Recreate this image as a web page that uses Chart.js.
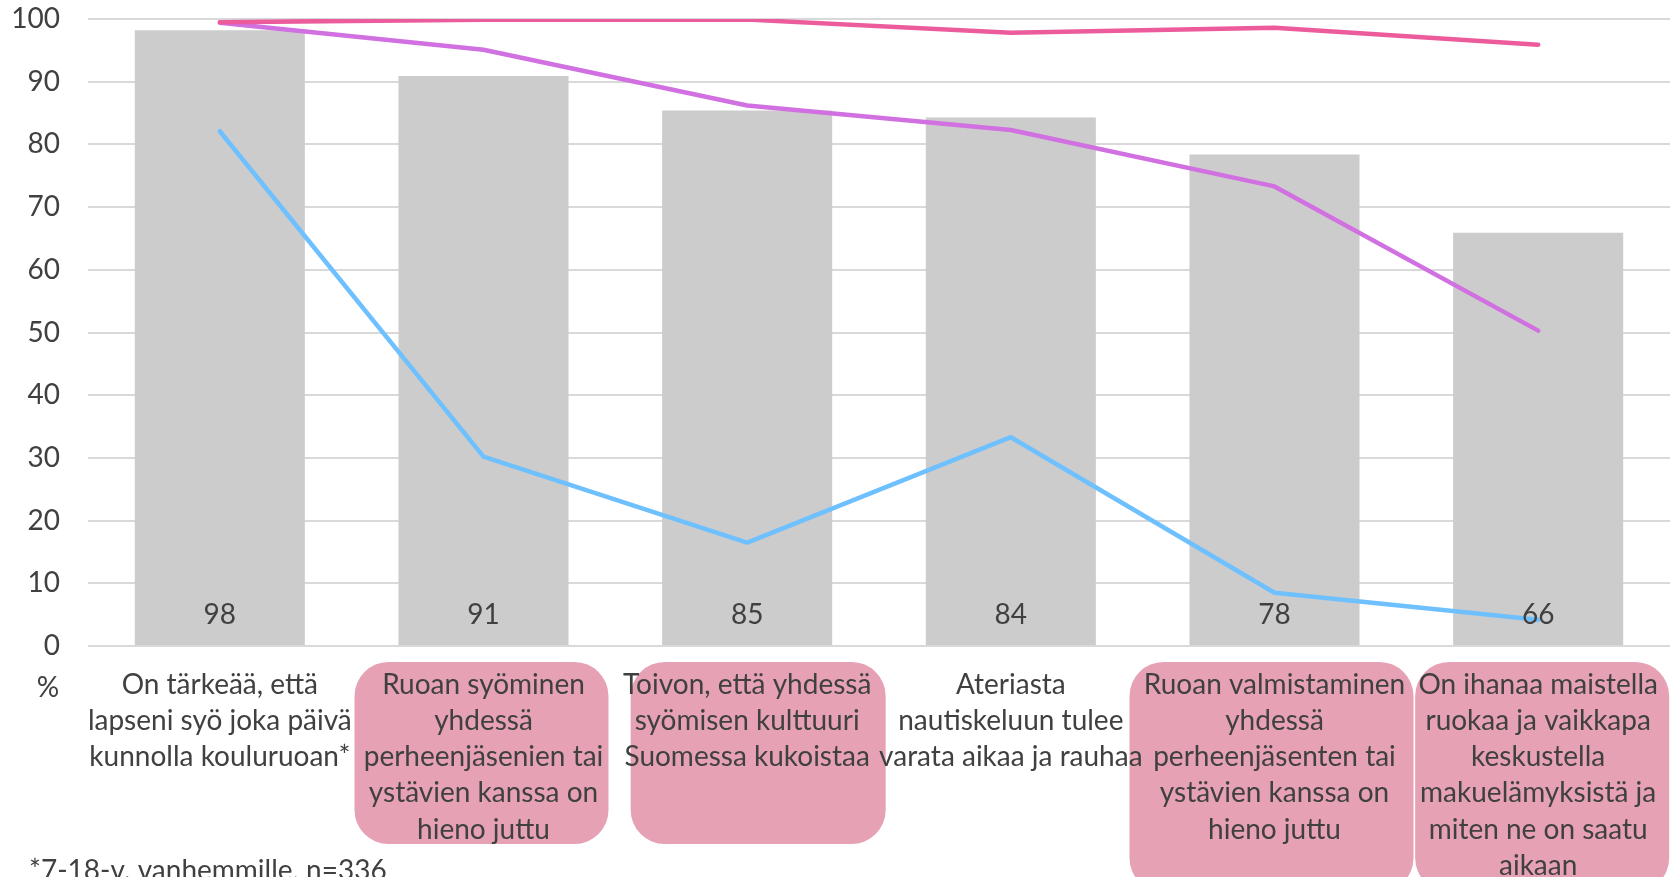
<!DOCTYPE html>
<html>
<head>
<meta charset="utf-8">
<script src="https://cdn.jsdelivr.net/npm/chart.js@4/dist/chart.umd.min.js"></script>
<style>
  html, body { margin: 0; padding: 0; background: #fff; overflow: hidden; }
  #wrap { width: 1675px; height: 877px; }
</style>
</head>
<body>
<div id="wrap"><canvas id="chart" width="1675" height="877"></canvas></div>
<script>
// Category labels (already broken into lines as in the original)
const categories = [
    ['On tärkeää, että', 'lapseni syö joka päivä', 'kunnolla kouluruoan*'],
    ['Ruoan syöminen', 'yhdessä', 'perheenjäsenien tai', 'ystävien kanssa on', 'hieno juttu'],
    ['Toivon, että yhdessä', 'syömisen kulttuuri', 'Suomessa kukoistaa'],
    ['Ateriasta', 'nautiskeluun tulee', 'varata aikaa ja rauhaa'],
    ['Ruoan valmistaminen', 'yhdessä', 'perheenjäsenten tai', 'ystävien kanssa on', 'hieno juttu'],
    ['On ihanaa maistella', 'ruokaa ja vaikkapa', 'keskustella', 'makuelämyksistä ja', 'miten ne on saatu', 'aikaan']
];

// Values (%)
const barValues    = [98.2, 90.9, 85.4, 84.3, 78.4, 65.9];
const pinkValues   = [99.5, 99.9, 99.9, 97.8, 98.6, 95.9];
const purpleValues = [99.4, 95.1, 86.2, 82.3, 73.3, 50.3];
const blueValues   = [82.1, 30.2, 16.5, 33.3, 8.5, 4.2];

const yTicks = [0, 10, 20, 30, 40, 50, 60, 70, 80, 90, 100];
const highlighted = [1, 2, 4, 5];   // categories with pink background box
const footnote = '*7-18-v. vanhemmille, n=336';
const unitLabel = '%';

const FONT = 'Lato, "Open Sans", sans-serif';
const TEXT = '#404040';

// pink rounded boxes behind some category labels
const boxPlugin = {
    id: 'labelBoxes',
    beforeDraw(chart) {
        const ctx = chart.ctx;
        const x = chart.scales.x;
        const area = chart.chartArea;
        const sizes = { 1: [-2, 254, 182], 2: [11, 255, 182], 4: [-3, 284, 230], 5: [4, 254, 230] };
        ctx.save();
        ctx.fillStyle = '#E6A1B5';
        highlighted.forEach(i => {
            const s = sizes[i];
            const cx = x.getPixelForValue(i) + s[0];
            ctx.beginPath();
            ctx.roundRect(cx - s[1] / 2, area.bottom + 16, s[1], s[2], 34);
            ctx.fill();
        });
        ctx.restore();
    },
    afterDraw(chart) {
        const ctx = chart.ctx;
        const area = chart.chartArea;
        ctx.save();
        ctx.fillStyle = TEXT;
        ctx.font = '28px ' + FONT;
        ctx.textAlign = 'center';
        ctx.textBaseline = 'middle';
        ctx.fillText(unitLabel, 48, area.bottom + 42);
        ctx.textAlign = 'left';
        ctx.textBaseline = 'top';
        ctx.fillText(footnote, 29, 857);
        ctx.restore();
    }
};

// value labels at the foot of each bar
const barLabels = {
    id: 'barLabels',
    afterDatasetsDraw(chart) {
        const ctx = chart.ctx;
        const meta = chart.getDatasetMeta(0);
        ctx.save();
        ctx.fillStyle = TEXT;
        ctx.font = '28px ' + FONT;
        ctx.textAlign = 'center';
        ctx.textBaseline = 'middle';
        meta.data.forEach((bar, i) => {
            ctx.fillText(Math.round(barValues[i]), bar.x, bar.base - 30);
        });
        ctx.restore();
    }
};

const lineStyle = (color) => ({
    type: 'line',
    borderColor: color,
    backgroundColor: color,
    borderWidth: 4.5,
    borderCapStyle: 'round',
    borderJoinStyle: 'round',
    pointRadius: 0,
    tension: 0,
    fill: false,
    order: 1
});

new Chart(document.getElementById('chart'), {
    type: 'bar',
    data: {
        labels: categories,
        datasets: [
            {
                label: 'Kaikki',
                data: barValues,
                backgroundColor: '#CCCCCC',
                barPercentage: 0.645,
                categoryPercentage: 1,
                order: 10
            },
            Object.assign({ label: 'A', data: pinkValues }, lineStyle('#EC5B9B')),
            Object.assign({ label: 'B', data: purpleValues }, lineStyle('#D170E0')),
            Object.assign({ label: 'C', data: blueValues }, lineStyle('#6EC0FF'))
        ]
    },
    options: {
        responsive: false,
        animation: false,
        layout: { padding: { top: 19, right: 5, left: 0, bottom: 0 } },
        plugins: {
            legend: { display: false },
            tooltip: { enabled: false }
        },
        scales: {
            x: {
                grid: { display: false },
                border: { display: false },
                ticks: {
                    color: TEXT,
                    font: { family: FONT, size: 28, lineHeight: 1.29 },
                    maxRotation: 0,
                    minRotation: 0,
                    autoSkip: false,
                    padding: 13
                },
                afterFit(scale) {
                    scale.paddingLeft = 0;
                    scale.paddingRight = 0;
                    scale.height = 231;
                }
            },
            y: {
                min: 0,
                max: 100,
                afterBuildTicks(scale) {
                    scale.ticks = yTicks.map(v => ({ value: v }));
                },
                grid: { color: '#D9D9D9', lineWidth: 2, drawTicks: false },
                border: { display: false },
                ticks: {
                    color: TEXT,
                    font: { family: FONT, size: 28 },
                    padding: 28
                },
                afterFit(scale) {
                    scale.width = 88;
                    scale.paddingTop = 0;
                    scale.paddingBottom = 0;
                }
            }
        }
    },
    plugins: [boxPlugin, barLabels]
});
</script>
</body>
</html>
